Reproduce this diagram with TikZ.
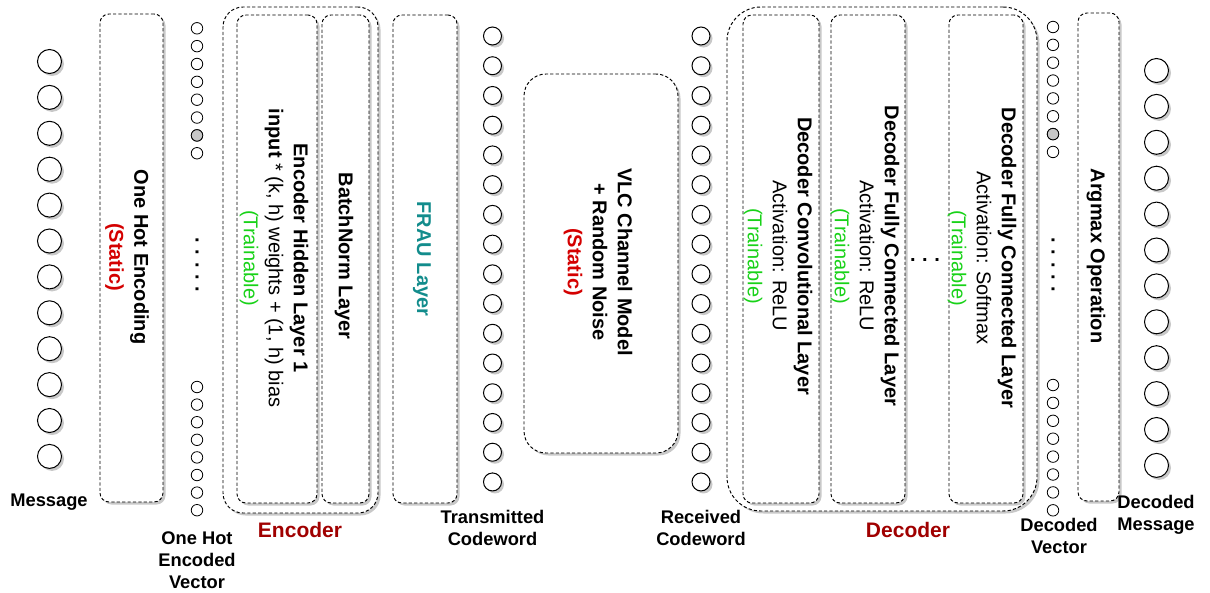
\documentclass[tikz,border=0pt]{standalone}
\usepackage{fontspec}
\setmainfont{Liberation Sans}
\usetikzlibrary{shadows,fit}

\definecolor{staticred}{RGB}{212,0,0}
\definecolor{traingreen}{RGB}{24,210,24}
\definecolor{frauteal}{RGB}{18,140,140}
\definecolor{groupred}{RGB}{160,0,0}
\definecolor{shadowgray}{RGB}{200,200,200}

\tikzset{
  softshadow/.style={drop shadow={shadow xshift=2.5pt, shadow yshift=-2.5pt, fill=shadowgray, opacity=1}},
  lyr/.style={draw, fill=white, line width=0.95pt, dash pattern=on 3.2pt off 2.2pt,
              rounded corners=9pt, inner sep=0pt, softshadow},
  grp/.style={lyr, rounded corners=20pt},
  bigdot/.style={circle, draw, fill=white, line width=1pt, minimum size=24pt, inner sep=0pt, softshadow},
  middot/.style={circle, draw, fill=white, line width=1pt, minimum size=18pt, inner sep=0pt, softshadow},
  smalldot/.style={circle, draw, fill=white, line width=0.8pt, minimum size=11.5pt, inner sep=0pt},
  hotdot/.style={smalldot, fill=black!22},
  ltext/.style={rotate=-90, align=center, inner sep=0pt, font=\fontsize{20}{25}\selectfont},
  lbl/.style={align=center, inner sep=0pt, anchor=north, font=\bfseries\fontsize{18.3}{21.7}\selectfont},
  grplbl/.style={inner sep=0pt, anchor=north, text=groupred, font=\bfseries\fontsize{21}{25}\selectfont},
  ellipsis/.style={inner sep=0pt, font=\bfseries\fontsize{20}{24}\selectfont},
}

\begin{document}
\begin{tikzpicture}[x=1pt,y=1pt]
\useasboundingbox (0,0) rectangle (1210,-592);

% ---------- input message ----------
\foreach \i in {0,...,11}
  \node[bigdot] (msg\i) at (49.5,{-61.5-35.9*\i}) {};
\node[lbl] (lmsg) at (49,-494) {Message};

% ---------- one hot encoding ----------
\node[lyr, fit={(100,-14) (163,-502)}] (onehot) {};
\node[ltext] (tonehot) at (127,-257) {\textbf{One Hot Encoding}\\\textcolor{staticred}{\textbf{(Static)}}};

% one hot vector
\foreach \i in {0,...,7}
  \node[smalldot] (ohtop\i) at (197,{-28.3-17.85*\i}) {};
\node[hotdot] (ohhot) at (ohtop6) {};
\foreach \i in {0,...,7}
  \node[smalldot] (ohbot\i) at (197,{-387-17.6*\i}) {};
\node[ellipsis, rotate=-90] (ohdots) at (197,-265) {.\,\,.\,\,.\,\,.\,\,.};
\node[lbl] (lohv) at (197,-532) {One Hot\\Encoded\\Vector};

% ---------- encoder ----------
\node[grp, fit={(223,-7) (378,-513)}] (encoder) {};
\node[lyr, fit={(237,-15) (317,-503)}] (hidden) {};
\node[lyr, fit={(322,-15) (369,-503)}] (bnorm) {};
\node[ltext] (thidden) at (274,-258) {\textbf{Encoder Hidden Layer 1}\\\textbf{input} * (k, h) weights + (1, h) bias\\\textcolor{traingreen}{(Trainable)}};
\node[ltext] (tbnorm) at (344,-256) {\textbf{BatchNorm Layer}};
\node[grplbl] (lenc) at (300,-522) {Encoder};

% ---------- FRAU layer ----------
\node[lyr, fit={(393,-15) (457,-503)}] (frau) {};
\node[ltext, text=frauteal] (tfrau) at (422,-259) {\textbf{FRAU Layer}};

% ---------- transmitted codeword ----------
\foreach \i in {0,...,15}
  \node[middot] (tx\i) at (492.5,{-36-29.73*\i}) {};
\node[lbl] (ltx) at (492.5,-510) {Transmitted\\Codeword};

% ---------- channel ----------
\node[grp, rounded corners=22pt, fit={(524,-74) (678,-453)}] (channel) {};
\node[ltext] (tchannel) at (598,-262) {\textbf{VLC Channel Model}\\\textbf{+ Random Noise}\\\textcolor{staticred}{\textbf{(Static)}}};

% ---------- received codeword ----------
\foreach \i in {0,...,15}
  \node[middot] (rx\i) at (701,{-36-29.73*\i}) {};
\node[lbl] (lrx) at (701,-510) {Received\\Codeword};

% ---------- decoder ----------
\node[grp, rounded corners=34pt, fit={(727,-7) (1037,-511)}] (decoder) {};
\node[lyr, fit={(743,-15) (819,-503)}] (conv) {};
\node[lyr, fit={(831,-15) (905,-503)}] (fcone) {};
\node[lyr, fit={(949,-15) (1023,-503)}] (fclast) {};
\node[ltext] (tconv) at (778,-256) {\textbf{Decoder Convolutional Layer}\\Activation: ReLU\\\textcolor{traingreen}{(Trainable)}};
\node[ltext] (tfcone) at (865,-256) {\textbf{Decoder Fully Connected Layer}\\Activation: ReLU\\\textcolor{traingreen}{(Trainable)}};
\node[ltext] (tfclast) at (982,-258) {\textbf{Decoder Fully Connected Layer}\\Activation: Softmax\\\textcolor{traingreen}{(Trainable)}};
\node[ellipsis] (decdots) at (925,-260) {.\,\,.\,\,.};
\node[grplbl] (ldec) at (908,-522) {Decoder};

% decoded vector
\foreach \i in {0,...,7}
  \node[smalldot] (dvtop\i) at (1053,{-27-17.85*\i}) {};
\node[hotdot] (dvhot) at (dvtop6) {};
\foreach \i in {0,...,7}
  \node[smalldot] (dvbot\i) at (1053,{-385-17.9*\i}) {};
\node[ellipsis, rotate=-90] (dvdots) at (1053,-265) {.\,\,.\,\,.\,\,.\,\,.};
\node[lbl] (ldv) at (1059,-518) {Decoded\\Vector};

% ---------- argmax ----------
\node[lyr, fit={(1078,-13) (1119,-501)}] (argmax) {};
\node[ltext] (targmax) at (1096,-256) {\textbf{Argmax Operation}};

% ---------- decoded message ----------
\foreach \i in {0,...,11}
  \node[bigdot] (out\i) at (1156.5,{-70.5-35.9*\i}) {};
\node[lbl] (lout) at (1156,-495) {Decoded\\Message};
\end{tikzpicture}
\end{document}
